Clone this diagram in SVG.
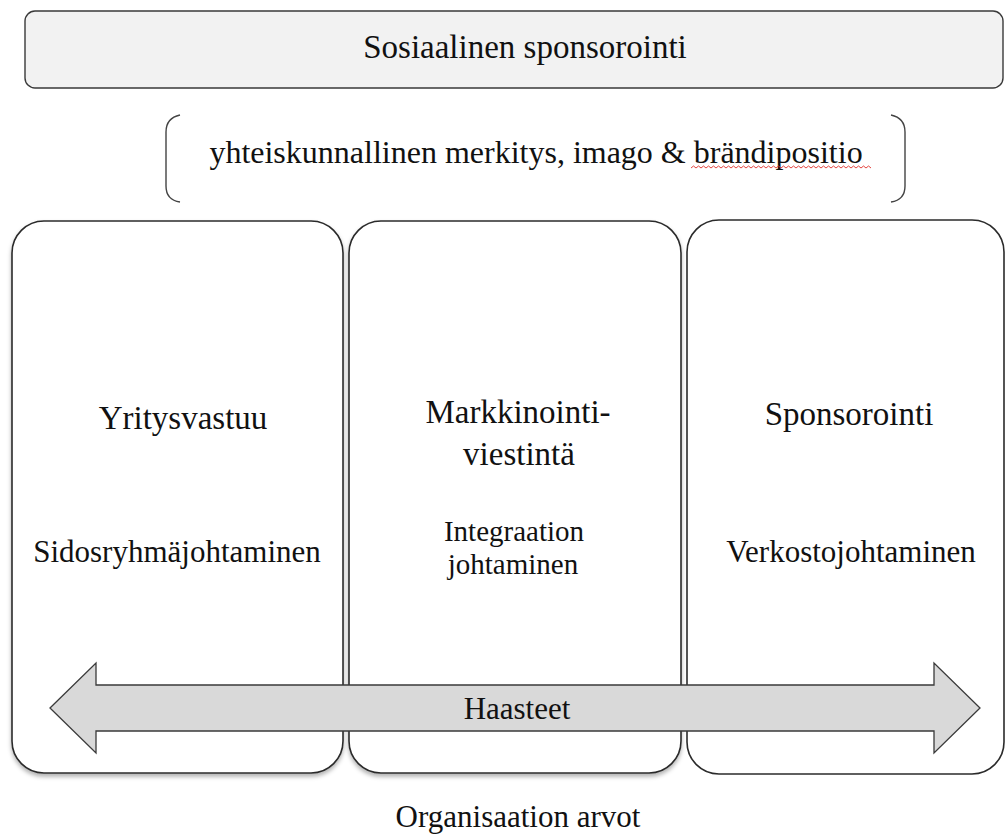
<svg xmlns="http://www.w3.org/2000/svg" width="1006" height="837" viewBox="0 0 1006 837">
<defs>
<style>
.t{font-family:"Liberation Serif","Times New Roman",serif;fill:#111;text-anchor:middle}
.box{fill:#fff;stroke:#2b2b2b;stroke-width:1.6}
.brace{fill:none;stroke:#444;stroke-width:1.4}
</style>
<filter id="sh" x="-5%" y="-5%" width="110%" height="110%">
<feDropShadow dx="0" dy="3" stdDeviation="2" flood-color="#000" flood-opacity="0.3"/>
</filter>
</defs>
<rect width="1006" height="837" fill="#fff"/>
<g id="top">
<rect x="25" y="11" width="978" height="77" rx="10" fill="#f2f2f2" stroke="#3a3a3a" stroke-width="1.4"/>
<text class="t" x="525" y="58" font-size="33">Sosiaalinen sponsorointi</text>
</g>
<g id="brace">
<path class="brace" d="M180,115 Q166,118 166,132 L166,186 Q166,200 180,202"/>
<path class="brace" d="M891,115 Q905,118 905,132 L905,186 Q905,200 891,202"/>
<text class="t" x="536" y="163" font-size="32">yhteiskunnallinen merkitys, imago &amp; brändipositio</text>
<path d="M691,168 l2.5,-2 l2.5,2 l2.5,-2 l2.5,2 l2.5,-2 l2.5,2 l2.5,-2 l2.5,2 l2.5,-2 l2.5,2 l2.5,-2 l2.5,2 l2.5,-2 l2.5,2 l2.5,-2 l2.5,2 l2.5,-2 l2.5,2 l2.5,-2 l2.5,2 l2.5,-2 l2.5,2 l2.5,-2 l2.5,2 l2.5,-2 l2.5,2 l2.5,-2 l2.5,2 l2.5,-2 l2.5,2 l2.5,-2 l2.5,2 l2.5,-2 l2.5,2 l2.5,-2 l2.5,2 l2.5,-2 l2.5,2 l2.5,-2 l2.5,2 l2.5,-2 l2.5,2 l2.5,-2 l2.5,2 l2.5,-2 l2.5,2 l2.5,-2 l2.5,2 l2.5,-2 l2.5,2 l2.5,-2 l2.5,2 l2.5,-2 l2.5,2 l2.5,-2 l2.5,2 l2.5,-2 l2.5,2 l2.5,-2 l2.5,2 l2.5,-2 l2.5,2 l2.5,-2 l2.5,2 l2.5,-2 l2.5,2 l2.5,-2 l2.5,2 l2.5,-2 l2.5,2 l2.5,-2 l2.5,2" fill="none" stroke="#e0302a" stroke-width="0.9"/>
</g>
<g id="yritysvastuu">
<rect class="box" x="12" y="221" width="331" height="552" rx="32" filter="url(#sh)"/>
<text class="t" x="183" y="429" font-size="33">Yritysvastuu</text>
<text class="t" x="177" y="562" font-size="31">Sidosryhmäjohtaminen</text>
</g>
<g id="markkinointiviestinta">
<rect class="box" x="349" y="221" width="332" height="552" rx="32" filter="url(#sh)"/>
<text class="t" font-size="33"><tspan x="518" y="423">Markkinointi-</tspan><tspan x="519" y="465">viestintä</tspan></text>
<text class="t" font-size="29"><tspan x="514" y="541">Integraation</tspan><tspan x="513" y="574">johtaminen</tspan></text>
</g>
<g id="sponsorointi">
<rect class="box" x="687" y="220" width="317" height="554" rx="32"/>
<text class="t" x="849" y="425" font-size="33">Sponsorointi</text>
<text class="t" x="851" y="562" font-size="31">Verkostojohtaminen</text>
</g>
<g id="connectors">
<path d="M50,708 L96,663 L96,685 L934,685 L934,663 L980,708 L934,753 L934,731 L96,731 L96,753 Z" fill="#d9d9d9" stroke="#3a3a3a" stroke-width="1.3" stroke-linejoin="miter"/>
<text class="t" x="517" y="719" font-size="31">Haasteet</text>
</g>
<g id="footer">
<text class="t" x="518" y="827" font-size="31">Organisaation arvot</text>
</g>
</svg>
